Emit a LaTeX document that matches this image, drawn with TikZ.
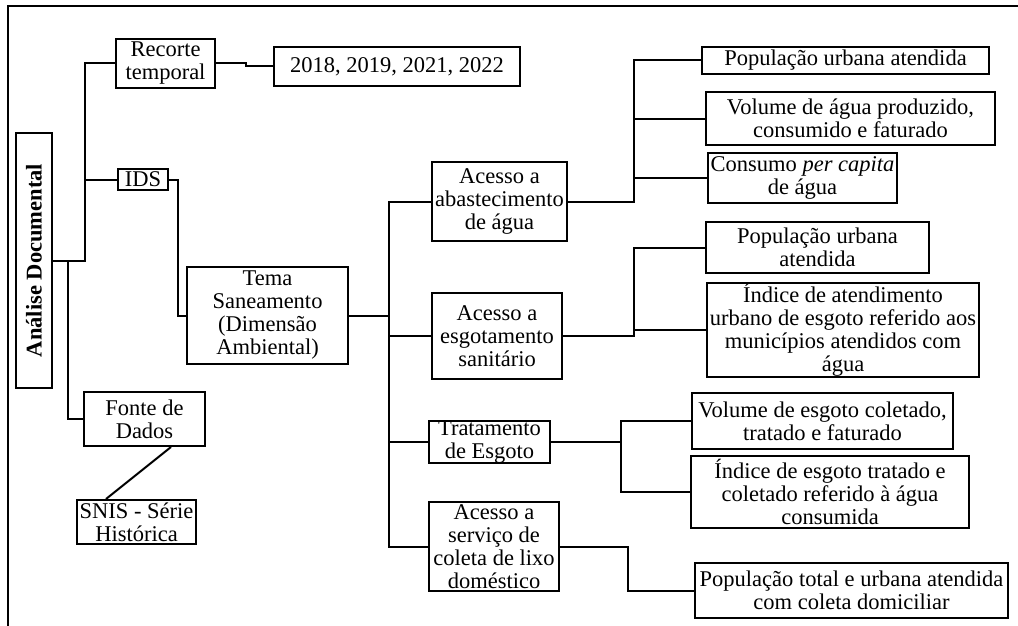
\documentclass[tikz,border=0pt]{standalone}
\usepackage{fontspec}
\setmainfont{Liberation Serif}
\begin{document}
\begin{tikzpicture}[x=1pt,y=-1pt,
  box/.style={draw, line width=2pt, inner sep=0pt, align=center,
    font=\fontsize{22.5}{23}\selectfont},
  conn/.style={line width=2pt},
  frame/.style={line width=2.2pt}]
\useasboundingbox (0,0) rectangle (1018,626);
\draw[frame] (8,626) -- (8,6) -- (1018,6);

% level 0
\node[box, minimum width=36, minimum height=255] (ana) at (34,260.5)
  {\rotatebox{90}{\bfseries Análise Documental}};
% level 1
\node[box, minimum width=99, minimum height=49] (rec) at (165.5,63.5) {Recorte\\temporal};
\node[box, minimum width=246, minimum height=39] (yrs) at (397,66.5) {2018, 2019, 2021, 2022};
\node[box, minimum width=50, minimum height=21] (ids) at (143,179.5) {IDS};
\node[box, minimum width=161, minimum height=97] (tema) at (267.5,315.5) {Tema\\Saneamento\\(Dimensão\\Ambiental)};
\node[box, minimum width=121, minimum height=54] (fonte) at (144.5,419) {Fonte de\\Dados};
\node[box, minimum width=119, minimum height=44] (snis) at (136.5,522) {SNIS - Série\\Histórica};
% level 2
\node[box, minimum width=135, minimum height=79] (abast) at (499.5,201.5) {Acesso a\\abastecimento\\de água};
\node[box, minimum width=130, minimum height=86] (esgot) at (497,336) {Acesso a\\esgotamento\\sanitário};
\node[box, minimum width=121, minimum height=42] (trat) at (489.5,442) {Tratamento\\de Esgoto};
\node[box, minimum width=130, minimum height=89] (coleta) at (494,546.5) {Acesso a\\serviço de\\coleta de lixo\\doméstico};
% level 3
\node[box, minimum width=287, minimum height=27] (pop1) at (845.5,60.5) {População urbana atendida};
\node[box, minimum width=289, minimum height=53] (vol) at (850.5,118.5) {Volume de água produzido,\\consumido e faturado};
\node[box, minimum width=189, minimum height=50] (cons) at (802.5,178) {Consumo \textit{per capita}\\de água};
\node[box, minimum width=223, minimum height=51] (pop2) at (817.5,247.5) {População urbana\\atendida};
\node[box, minimum width=272, minimum height=92] (ind1) at (843,330) {Índice de atendimento\\urbano de esgoto referido aos\\municípios atendidos com\\água};
\node[box, minimum width=261, minimum height=56] (vesg) at (822.5,421) {Volume de esgoto coletado,\\tratado e faturado};
\node[box, minimum width=278, minimum height=72] (iesg) at (830,492) {Índice de esgoto tratado e\\coletado referido à água\\consumida};
\node[box, minimum width=313, minimum height=55] (poptot) at (851.5,590.5) {População total e urbana atendida\\com coleta domiciliar};

% junctions
\coordinate (j1) at (85,260.5);
\coordinate (j1b) at (68,260.5);
\coordinate (j2) at (389,315.5);
\coordinate (j3) at (634,201.5);
\coordinate (j4) at (634,336);
\coordinate (j5) at (621,442);
\coordinate (j6) at (628,546.5);
\coordinate (fs) at ([xshift=26.5pt]fonte.south);
\coordinate (sn) at ([xshift=-30.5pt]snis.north);

% connectors
\draw[conn] (ana.east) -- (j1) |- (rec.west);
\draw[conn] (j1) |- (ids.west);
\draw[conn] (j1b) |- (fonte.west);
\draw[conn] (rec.east) -- ++(30,0) |- (yrs.west);
\draw[conn] (ids.east) -- ++(9,0) |- (tema.west);
\draw[conn] (fs) -- (sn);
\draw[conn] (tema.east) -- (j2);
\draw[conn] (j2) |- (abast.west);
\draw[conn] (j2) |- (esgot.west);
\draw[conn] (j2) |- (trat.west);
\draw[conn] (j2) |- (coleta.west);
\draw[conn] (abast.east) -- (j3) |- (pop1.west);
\draw[conn] (j3) |- (vol.west);
\draw[conn] (j3) |- (cons.west);
\draw[conn] (esgot.east) -- (j4) |- (pop2.west);
\draw[conn] (j4) |- (ind1.west);
\draw[conn] (trat.east) -- (j5) |- (vesg.west);
\draw[conn] (j5) |- (iesg.west);
\draw[conn] (coleta.east) -- (j6) |- (poptot.west);
\end{tikzpicture}
\end{document}
